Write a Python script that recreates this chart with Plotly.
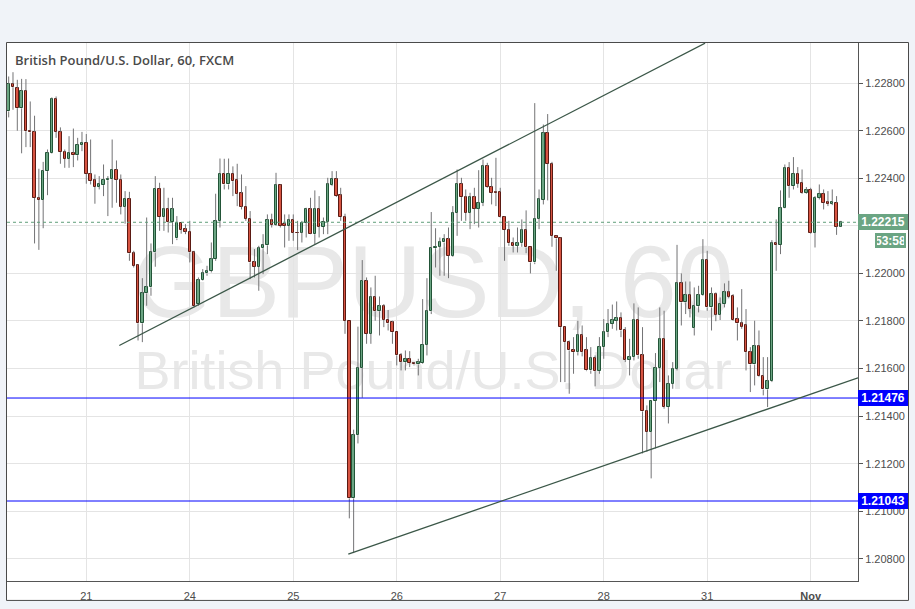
import plotly.graph_objects as go

# ---------------- data (GBP/USD, 60 min, FXCM) ----------------
day_index = [18, 42, 66, 90, 114, 138, 162, 186]
day_labels = ["21", "24", "25", "26", "27", "28", "31", "<b>Nov</b>"]

open_ = [1.22681, 1.22796, 1.22779, 1.22694, 1.22768, 1.22600, 1.22595, 1.22318, 1.22309, 1.22430,
         1.22505, 1.22734, 1.22595, 1.22511, 1.22482, 1.22507, 1.22497, 1.22540, 1.22550, 1.22419,
         1.22391, 1.22364, 1.22371, 1.22392, 1.22397, 1.22436, 1.22394, 1.22281, 1.22314, 1.22084,
         1.22035, 1.21790, 1.21916, 1.21941, 1.22088, 1.22357, 1.22237, 1.22269, 1.22216, 1.22147,
         1.22211, 1.22186, 1.22176, 1.22088, 1.21871, 1.21971, 1.22000, 1.22010, 1.22060, 1.22221,
         1.22420, 1.22374, 1.22420, 1.22391, 1.22336, 1.22281, 1.22230, 1.22046, 1.22028, 1.22106,
         1.22118, 1.22225, 1.22204, 1.22370, 1.22207, 1.22200, 1.22225, 1.22172, 1.22172, 1.22214,
         1.22269, 1.22165, 1.22272, 1.22195, 1.22218, 1.22371, 1.22398, 1.22328, 1.22237, 1.21801,
         1.21054, 1.21320, 1.21603, 1.21969, 1.21746, 1.21899, 1.21841, 1.21862, 1.21806, 1.21794,
         1.21753, 1.21655, 1.21627, 1.21641, 1.21623, 1.21617, 1.21623, 1.21701, 1.21841, 1.22106,
         1.22113, 1.22130, 1.22144, 1.22074, 1.22255, 1.22377, 1.22321, 1.22255, 1.22321, 1.22272,
         1.22297, 1.22451, 1.22364, 1.22343, 1.22343, 1.22239, 1.22183, 1.22127, 1.22117, 1.22127,
         1.22181, 1.22109, 1.22046, 1.22230, 1.22309, 1.22591, 1.22461, 1.22158, 1.22147, 1.21774,
         1.21711, 1.21679, 1.21669, 1.21739, 1.21676, 1.21592, 1.21645, 1.21589, 1.21690, 1.21753,
         1.21788, 1.21801, 1.21813, 1.21762, 1.21637, 1.21648, 1.21804, 1.21655, 1.21422, 1.21334,
         1.21464, 1.21602, 1.21725, 1.21438, 1.21536, 1.21599, 1.21958, 1.21878, 1.21909, 1.21771,
         1.21862, 1.21909, 1.22056, 1.21857, 1.21913, 1.21827, 1.21871, 1.21920, 1.21906, 1.21808,
         1.21790, 1.21781, 1.21669, 1.21617, 1.21694, 1.21567, 1.21512, 1.21547, 1.22126, 1.22120,
         1.22276, 1.22444, 1.22367, 1.22420, 1.22381, 1.22339, 1.22349, 1.22172, 1.22318, 1.22335,
         1.22299, 1.22293, 1.22297, 1.22197]

high = [1.22828, 1.22846, 1.22814, 1.22818, 1.22817, 1.22723, 1.22663, 1.22440, 1.22469, 1.22521,
        1.22740, 1.22744, 1.22614, 1.22521, 1.22577, 1.22609, 1.22570, 1.22595, 1.22586, 1.22563,
        1.22416, 1.22409, 1.22458, 1.22409, 1.22563, 1.22475, 1.22416, 1.22346, 1.22343, 1.22095,
        1.22039, 1.21980, 1.22235, 1.22126, 1.22409, 1.22381, 1.22360, 1.22318, 1.22318, 1.22241,
        1.22214, 1.22207, 1.22221, 1.22095, 1.21983, 1.22018, 1.22032, 1.22130, 1.22335, 1.22483,
        1.22482, 1.22483, 1.22450, 1.22461, 1.22416, 1.22367, 1.22262, 1.22102, 1.22116, 1.22165,
        1.22248, 1.22251, 1.22423, 1.22374, 1.22248, 1.22248, 1.22248, 1.22221, 1.22221, 1.22276,
        1.22318, 1.22349, 1.22325, 1.22235, 1.22402, 1.22430, 1.22430, 1.22360, 1.22251, 1.21801,
        1.21343, 1.21776, 1.22056, 1.21983, 1.21941, 1.21990, 1.21903, 1.21871, 1.21846, 1.21801,
        1.21753, 1.21665, 1.21676, 1.21673, 1.21627, 1.21641, 1.21892, 1.21980, 1.22258, 1.22190,
        1.22151, 1.22165, 1.22193, 1.22283, 1.22437, 1.22402, 1.22353, 1.22339, 1.22360, 1.22434,
        1.22479, 1.22465, 1.22402, 1.22486, 1.22360, 1.22241, 1.22221, 1.22151, 1.22193, 1.22227,
        1.22265, 1.22112, 1.22716, 1.22353, 1.22626, 1.22670, 1.22469, 1.22160, 1.22151, 1.21776,
        1.21718, 1.21732, 1.21801, 1.21781, 1.21732, 1.21690, 1.21655, 1.21732, 1.21808, 1.21850,
        1.21869, 1.21882, 1.21836, 1.21774, 1.21725, 1.21874, 1.21857, 1.21774, 1.21445, 1.21466,
        1.21665, 1.21857, 1.21843, 1.21571, 1.21627, 1.22120, 1.22000, 1.21966, 1.21966, 1.21941,
        1.21948, 1.22144, 1.22095, 1.21941, 1.21920, 1.21899, 1.21958, 1.21969, 1.21913, 1.21857,
        1.21934, 1.21850, 1.21690, 1.21801, 1.21760, 1.21648, 1.21648, 1.22140, 1.22227, 1.22349,
        1.22458, 1.22468, 1.22489, 1.22447, 1.22437, 1.22363, 1.22360, 1.22325, 1.22374, 1.22353,
        1.22346, 1.22353, 1.22325, 1.22221]

low = [1.22656, 1.22688, 1.22600, 1.22505, 1.22531, 1.22531, 1.22126, 1.22099, 1.22190, 1.22329,
       1.22503, 1.22570, 1.22461, 1.22444, 1.22444, 1.22447, 1.22475, 1.22514, 1.22377, 1.22374,
       1.22293, 1.22353, 1.22325, 1.22241, 1.22276, 1.22297, 1.22248, 1.22209, 1.22053, 1.22025,
       1.21718, 1.21711, 1.21864, 1.21906, 1.22028, 1.22179, 1.22179, 1.22172, 1.22123, 1.22140,
       1.22167, 1.22165, 1.22046, 1.21857, 1.21864, 1.21969, 1.21990, 1.22004, 1.22053, 1.22193,
       1.22353, 1.22353, 1.22325, 1.22283, 1.22269, 1.22221, 1.21976, 1.21983, 1.21927, 1.21997,
       1.22081, 1.22193, 1.22200, 1.22193, 1.22109, 1.22137, 1.22137, 1.22098, 1.22130, 1.22151,
       1.22165, 1.22123, 1.22151, 1.22165, 1.22165, 1.22367, 1.22321, 1.22221, 1.21746, 1.20970,
       1.20824, 1.21285, 1.21477, 1.21704, 1.21704, 1.21801, 1.21739, 1.21774, 1.21760, 1.21704,
       1.21613, 1.21592, 1.21592, 1.21606, 1.21613, 1.21571, 1.21620, 1.21655, 1.21829, 1.22025,
       1.21990, 1.21990, 1.21980, 1.22070, 1.22158, 1.22221, 1.22221, 1.22186, 1.22207, 1.22193,
       1.22283, 1.22360, 1.22290, 1.22283, 1.22235, 1.22053, 1.22116, 1.22088, 1.22088, 1.22112,
       1.22085, 1.22000, 1.22039, 1.22186, 1.22290, 1.22307, 1.22112, 1.22011, 1.21543, 1.21543,
       1.21494, 1.21578, 1.21655, 1.21651, 1.21589, 1.21578, 1.21525, 1.21578, 1.21641, 1.21732,
       1.21767, 1.21760, 1.21732, 1.21627, 1.21571, 1.21634, 1.21641, 1.21243, 1.21250, 1.21138,
       1.21264, 1.21543, 1.21431, 1.21369, 1.21515, 1.21592, 1.21781, 1.21829, 1.21815, 1.21739,
       1.21836, 1.21906, 1.21843, 1.21760, 1.21799, 1.21804, 1.21857, 1.21895, 1.21801, 1.21718,
       1.21767, 1.21592, 1.21501, 1.21529, 1.21564, 1.21487, 1.21438, 1.21543, 1.22011, 1.22081,
       1.22274, 1.22318, 1.22353, 1.22360, 1.22335, 1.22335, 1.22167, 1.22109, 1.22311, 1.22269,
       1.22283, 1.22287, 1.22162, 1.22195]

close = [1.22797, 1.22783, 1.22695, 1.22768, 1.22598, 1.22593, 1.22318, 1.22309, 1.22431, 1.22508,
         1.22734, 1.22595, 1.22511, 1.22482, 1.22507, 1.22497, 1.22542, 1.22550, 1.22419, 1.22388,
         1.22364, 1.22374, 1.22394, 1.22399, 1.22436, 1.22394, 1.22281, 1.22314, 1.22084, 1.22032,
         1.21790, 1.21916, 1.21941, 1.22088, 1.22357, 1.22237, 1.22269, 1.22216, 1.22269, 1.22211,
         1.22183, 1.22176, 1.22088, 1.21862, 1.21971, 1.22000, 1.22010, 1.22060, 1.22221, 1.22420,
         1.22374, 1.22420, 1.22388, 1.22335, 1.22281, 1.22230, 1.22046, 1.22028, 1.22106, 1.22118,
         1.22225, 1.22204, 1.22370, 1.22200, 1.22200, 1.22225, 1.22172, 1.22170, 1.22214, 1.22269,
         1.22167, 1.22272, 1.22197, 1.22218, 1.22374, 1.22399, 1.22325, 1.22237, 1.21801, 1.21054,
         1.21320, 1.21603, 1.21969, 1.21746, 1.21899, 1.21841, 1.21862, 1.21806, 1.21790, 1.21753,
         1.21655, 1.21627, 1.21641, 1.21623, 1.21617, 1.21627, 1.21701, 1.21841, 1.22106, 1.22113,
         1.22130, 1.22144, 1.22074, 1.22255, 1.22377, 1.22321, 1.22255, 1.22321, 1.22272, 1.22297,
         1.22451, 1.22364, 1.22339, 1.22339, 1.22239, 1.22183, 1.22127, 1.22117, 1.22127, 1.22181,
         1.22109, 1.22046, 1.22230, 1.22311, 1.22591, 1.22461, 1.22158, 1.22147, 1.21774, 1.21711,
         1.21676, 1.21669, 1.21739, 1.21669, 1.21592, 1.21645, 1.21589, 1.21690, 1.21753, 1.21788,
         1.21804, 1.21813, 1.21760, 1.21637, 1.21648, 1.21804, 1.21655, 1.21420, 1.21334, 1.21464,
         1.21602, 1.21725, 1.21438, 1.21536, 1.21599, 1.21958, 1.21878, 1.21909, 1.21850, 1.21862,
         1.21909, 1.22056, 1.21857, 1.21913, 1.21827, 1.21871, 1.21920, 1.21902, 1.21804, 1.21790,
         1.21776, 1.21669, 1.21617, 1.21694, 1.21567, 1.21512, 1.21547, 1.22126, 1.22120, 1.22276,
         1.22444, 1.22367, 1.22420, 1.22378, 1.22339, 1.22349, 1.22172, 1.22318, 1.22335, 1.22297,
         1.22293, 1.22299, 1.22197, 1.22215]

# drawings: trend lines (candle index, price) and horizontal levels
upper_line_x = [25.65, 161.5]
upper_line_y = [1.21697, 1.22968]
lower_line_x = [78.76, 196.97]
lower_line_y = [1.20820, 1.21561]
levels = [1.21476, 1.21043]
last_price = 1.22215
countdown = "53:58"
title_text = "British Pound/U.S. Dollar, 60, FXCM"
watermark_big = "GBPUSD, 60"
watermark_small = "British Pound/U.S. Dollar"

# ---------------- layout constants ----------------
W, H = 915, 609
ML, MR, MT, MB = 7, 57, 43, 26
PW, PH = W - ML - MR, H - MT - MB
X_RANGE = [-0.39, 196.97]
Y_RANGE = [1.207066, 1.229688]


def px_x(px):
    return (px - ML) / PW


def px_y(py):
    return (H - MB - py) / PH


UP_FILL, DN_FILL = "#6ba583", "#d75442"
UP_LINE, DN_LINE = "#225437", "#5b1a13"
WICK = "#737375"
GRID = "#e4e4e4"
AXIS = "#555555"
TXT = "#4d4d4d"
FONT = "Liberation Sans, Arial, sans-serif"

n = len(open_)
idx = list(range(n))
is_up = [c > o for o, c in zip(open_, close)]
body_base = [min(o, c) for o, c in zip(open_, close)]
body_h = [abs(c - o) for o, c in zip(open_, close)]

wx, wy = [], []
for i in idx:
    top = max(open_[i], close[i])
    bot = min(open_[i], close[i])
    wx += [i, i, None, i, i, None]
    wy += [high[i], top, None, bot, low[i], None]

fig = go.Figure()
fig.add_trace(go.Scatter(x=wx, y=wy, mode="lines", line=dict(color=WICK, width=1),
                         hoverinfo="skip", showlegend=False))
fig.add_trace(go.Bar(
    x=idx, y=body_h, base=body_base, width=0.56,
    marker=dict(color=[UP_FILL if u else DN_FILL for u in is_up],
                line=dict(color=[UP_LINE if u else DN_LINE for u in is_up], width=1)),
    hoverinfo="skip", showlegend=False))

shapes = []
# chart box (white panel with border, covers price/time scale strips)
shapes.append(dict(type="rect", xref="paper", yref="paper", layer="below",
                   x0=px_x(6.5), x1=px_x(908.5), y0=px_y(602.5), y1=px_y(42.5),
                   fillcolor="white", line=dict(color="#4a4a4a", width=1)))
# watermark
shapes.append(dict(type="rect", xref="paper", yref="paper", layer="below",
                   x0=px_x(133), x1=px_x(733), y0=px_y(293), y1=px_y(253),
                   fillcolor="rgba(0,0,0,0)", line=dict(width=0),
                   label=dict(text=watermark_big, textposition="middle center",
                              font=dict(family=FONT, size=102, color="#e8e8e8"))))
shapes.append(dict(type="rect", xref="paper", yref="paper", layer="below",
                   x0=px_x(133), x1=px_x(733), y0=px_y(378), y1=px_y(354),
                   fillcolor="rgba(0,0,0,0)", line=dict(width=0),
                   label=dict(text=watermark_small, textposition="middle center",
                              font=dict(family=FONT, size=54, color="#e8e8e8"))))
# horizontal levels
for lv in levels:
    shapes.append(dict(type="line", xref="paper", yref="y", x0=0, x1=1, y0=lv, y1=lv,
                       line=dict(color="#0000ff", width=1)))
# last price dashed line
shapes.append(dict(type="line", xref="paper", yref="y", x0=0, x1=1, y0=last_price, y1=last_price,
                   line=dict(color="#5f9e7a", width=1, dash="3px,3px")))
# trend lines
shapes.append(dict(type="line", xref="x", yref="y",
                   x0=upper_line_x[0], x1=upper_line_x[1], y0=upper_line_y[0], y1=upper_line_y[1],
                   line=dict(color="#3b5748", width=1.3)))
shapes.append(dict(type="line", xref="x", yref="y",
                   x0=lower_line_x[0], x1=lower_line_x[1], y0=lower_line_y[0], y1=lower_line_y[1],
                   line=dict(color="#3b5748", width=1.3)))

annotations = []
annotations.append(dict(text=title_text, xref="paper", yref="paper", x=px_x(13), y=px_y(60),
                        xanchor="left", yanchor="middle", showarrow=False,
                        font=dict(family="Open Sans, sans-serif", size=13, color="#4a4a4a", weight=600)))
for lv in levels:
    annotations.append(dict(text="<b>%.5f</b>" % lv, xref="paper", yref="y", x=1, y=lv,
                            xanchor="left", yanchor="middle", showarrow=False,
                            bgcolor="#0000ff", borderwidth=0, borderpad=2, width=46, height=12,
                            font=dict(family=FONT, size=12, color="white")))
annotations.append(dict(text="<b>%.5f</b>" % last_price, xref="paper", yref="y", x=1, y=last_price,
                        xanchor="left", yanchor="middle", showarrow=False,
                        bgcolor=UP_FILL, borderwidth=0, borderpad=2, width=46, height=12,
                        font=dict(family=FONT, size=12, color="white")))
annotations.append(dict(text="<b>%s</b>" % countdown, xref="paper", yref="y", x=px_x(906), y=last_price,
                        yshift=-18, xanchor="right", yanchor="middle", showarrow=False,
                        bgcolor=UP_FILL, borderwidth=0, borderpad=2, width=27, height=11,
                        font=dict(family=FONT, size=12, color="white")))

fig.update_layout(
    width=W, height=H,
    margin=dict(l=ML, r=MR, t=MT, b=MB, pad=0),
    paper_bgcolor="#f0f3f8", plot_bgcolor="white",
    showlegend=False, hovermode=False, bargap=0,
    shapes=shapes, annotations=annotations,
    xaxis=dict(range=X_RANGE, tickmode="array", tickvals=day_index, ticktext=day_labels,
               showgrid=True, gridcolor=GRID, gridwidth=1, zeroline=False,
               showline=True, linecolor=AXIS, linewidth=1, ticks="", ticklabelstandoff=5,
               tickfont=dict(family=FONT, size=11, color=TXT), fixedrange=True),
    yaxis=dict(range=Y_RANGE, side="right", tick0=1.208, dtick=0.002, tickformat=".5f",
               showgrid=True, gridcolor=GRID, gridwidth=1, zeroline=False,
               showline=True, linecolor=AXIS, linewidth=1,
               ticks="outside", ticklen=4, tickcolor=AXIS,
               tickfont=dict(family=FONT, size=11, color=TXT), fixedrange=True),
)

fig.write_html("out.html", config={"displayModeBar": False},
               post_script="document.body.style.margin='0';document.body.style.padding='0';"
                           "document.body.style.overflow='hidden';")
